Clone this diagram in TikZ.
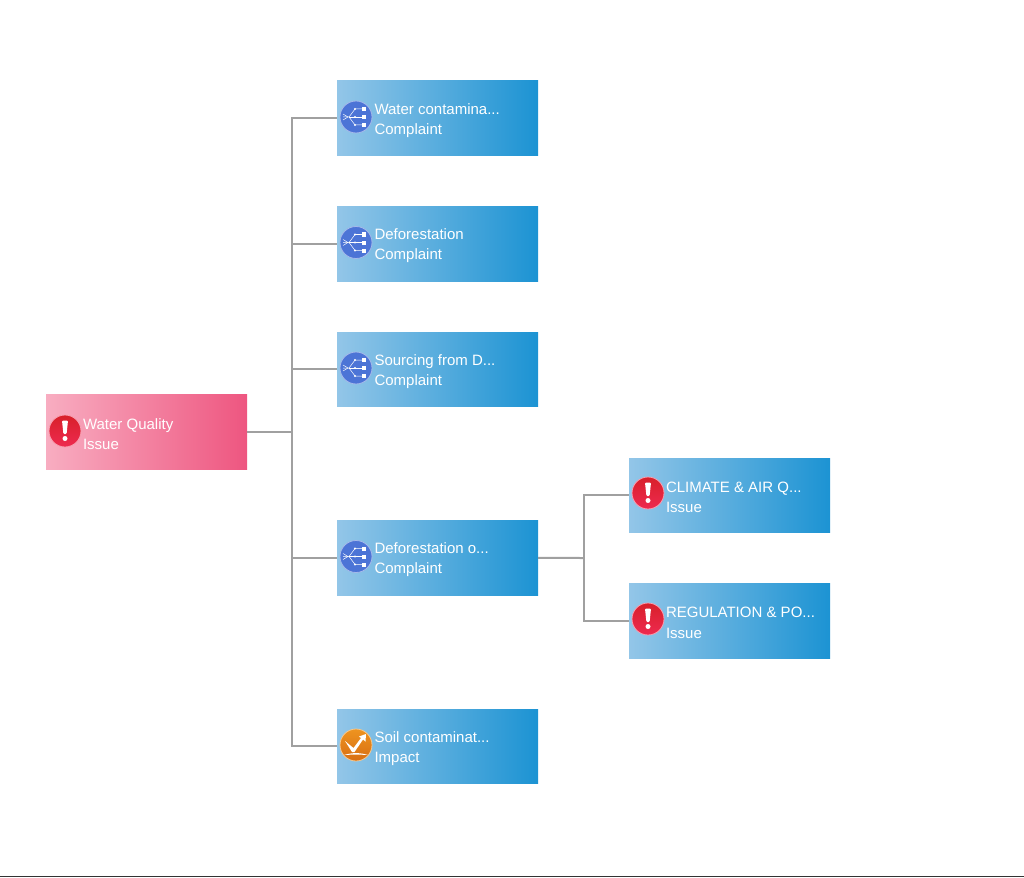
\documentclass[tikz,border=0pt]{standalone}
\usepackage{fontspec}
\setmainfont{Liberation Sans}
\usetikzlibrary{calc}
\usetikzlibrary{arrows.meta}

\definecolor{boxblueL}{HTML}{93C6E8}
\definecolor{boxblueR}{HTML}{1C93D3}
\definecolor{boxpinkL}{HTML}{F8ADC1}
\definecolor{boxpinkR}{HTML}{EE5680}
\definecolor{linkgrey}{HTML}{A0A0A0}
\definecolor{iconblue}{HTML}{4C74D6}
\definecolor{iconredT}{HTML}{D8202A}
\definecolor{iconredB}{HTML}{EE2A50}
\definecolor{iconorangeT}{HTML}{EE9420}
\definecolor{iconorangeB}{HTML}{D86E12}

\tikzset{
	treebox/.style={minimum width=201, minimum height=74.6, inner sep=0pt, shading angle=90},
	bluebox/.style={treebox, left color=boxblueL, right color=boxblueR},
	pinkbox/.style={treebox, left color=boxpinkL, right color=boxpinkR},
	boxlabel/.style={anchor=west, inner sep=0pt, align=left, text=white, font=\fontsize{15}{20.2}\selectfont, yshift=-2},
	link/.style={draw=linkgrey, line width=2},
	iconring/.style={circle, minimum size=32, inner sep=0pt, line width=0.8},
	alerticon/.style={iconring, draw=iconredB!45!white, top color=iconredT, bottom color=iconredB},
	spliticon/.style={iconring, draw=iconblue!50!white, fill=iconblue},
	impacticon/.style={iconring, draw=iconorangeT!50!white, top color=iconorangeT, bottom color=iconorangeB},
	pics/alertmark/.style={code={
		\fill[white, rounded corners=1] (-3,-10.5) -- (3,-10.5) -- (1.6,3) -- (-1.6,3) -- cycle;
		\fill[white] (0,7.5) circle (2.5);
	}},
	pics/splitmark/.style={code={
		\draw[white, line width=0.5] (-13,0) -- (-7,0) -- (-1,-8) -- (7,-8);
		\draw[white, line width=0.5] (-7,0) -- (7,0);
		\draw[white, line width=0.5] (-7,0) -- (-1,8) -- (7,8);
		\draw[white, line width=0.5] (-13,-3) -- (-8,0) -- (-13,3);
		\fill[white] (5.5,-10) rectangle (9.5,-6);
		\fill[white] (5.5,-2) rectangle (9.5,2);
		\fill[white] (5.5,6) rectangle (9.5,10);
		\fill[white] (-1,-8) circle (1.2);
		\fill[white] (-1,0) circle (1.2);
		\fill[white] (-1,8) circle (1.2);
	}},
	pics/impactmark/.style={code={
		\fill[white] (-11,-4) -- (-2.5,3) -- (5,-7) -- (3,-8.5) -- (10,-11) -- (9.5,-3.5) -- (7,-5.5) -- (-1.5,7) -- (-4,7) -- cycle;
		\fill[white] (-12,10) .. controls (-4,7.5) and (4,7.5) .. (12,10) .. controls (4,9.5) and (-4,9.5) .. (-12,10);
	}},
}

\begin{document}
\begin{tikzpicture}[x=1pt, y=-1pt]
	\useasboundingbox (0,0) rectangle (1024,877);
	\draw[line width=1.2, black!80] (0,876.4) -- (1024,876.4);
	
	% boxes
	\node[pinkbox] (quality) at (146.5,432) {};
	\node[bluebox] (water) at (437.5,118.3) {};
	\node[bluebox] (forest) at (437.5,243.8) {};
	\node[bluebox] (sourcing) at (437.5,369.3) {};
	\node[bluebox] (forestother) at (437.5,557.8) {};
	\node[bluebox] (soil) at (437.5,746.3) {};
	\node[bluebox] (climate) at (729.5,495.3) {};
	\node[bluebox] (regulation) at (729.5,620.8) {};
	
	% links
	\coordinate (trunk) at (292,432);
	\coordinate (branch) at (583.5,558);
	\draw[link] (quality) -- (trunk);
	\draw[link] (trunk) |- (water.west);
	\draw[link] (trunk) |- (forest.west);
	\draw[link] (trunk) |- (sourcing.west);
	\draw[link] (trunk) |- (forestother.west);
	\draw[link] (trunk) |- (soil.west);
	\draw[link] (forestother) -- (branch);
	\draw[link] (branch) |- (climate.west);
	\draw[link] (branch) |- (regulation.west);
	
	% icons
	\node[alerticon] (qualityicon) at (65,431) {};
	\node[spliticon] (watericon) at (356,117) {};
	\node[spliticon] (foresticon) at (356,242.5) {};
	\node[spliticon] (sourcingicon) at (356,368) {};
	\node[spliticon] (forestothericon) at (356,556.5) {};
	\node[impacticon] (soilicon) at (356,745) {};
	\node[alerticon] (climateicon) at (648,493) {};
	\node[alerticon] (regulationicon) at (648,619) {};
	\pic at (qualityicon) {alertmark};
	\pic at (climateicon) {alertmark};
	\pic at (regulationicon) {alertmark};
	\pic at (watericon) {splitmark};
	\pic at (foresticon) {splitmark};
	\pic at (sourcingicon) {splitmark};
	\pic at (forestothericon) {splitmark};
	\pic at (soilicon) {impactmark};
	
	% labels
	\node[boxlabel] (qualitylabel) at ([xshift=37]quality.west) {Water Quality\\Issue};
	\node[boxlabel] (waterlabel) at ([xshift=37.5]water.west) {Water contamina...\\Complaint};
	\node[boxlabel] (forestlabel) at ([xshift=37.5]forest.west) {Deforestation\\Complaint};
	\node[boxlabel] (sourcinglabel) at ([xshift=37.5]sourcing.west) {Sourcing from D...\\Complaint};
	\node[boxlabel] (forestotherlabel) at ([xshift=37.5]forestother.west) {Deforestation o...\\Complaint};
	\node[boxlabel] (soillabel) at ([xshift=37.5]soil.west) {Soil contaminat...\\Impact};
	\node[boxlabel] (climatelabel) at ([xshift=37]climate.west) {CLIMATE \& AIR Q...\\Issue};
	\node[boxlabel] (regulationlabel) at ([xshift=37]regulation.west) {REGULATION \& PO...\\Issue};
\end{tikzpicture}
\end{document}
